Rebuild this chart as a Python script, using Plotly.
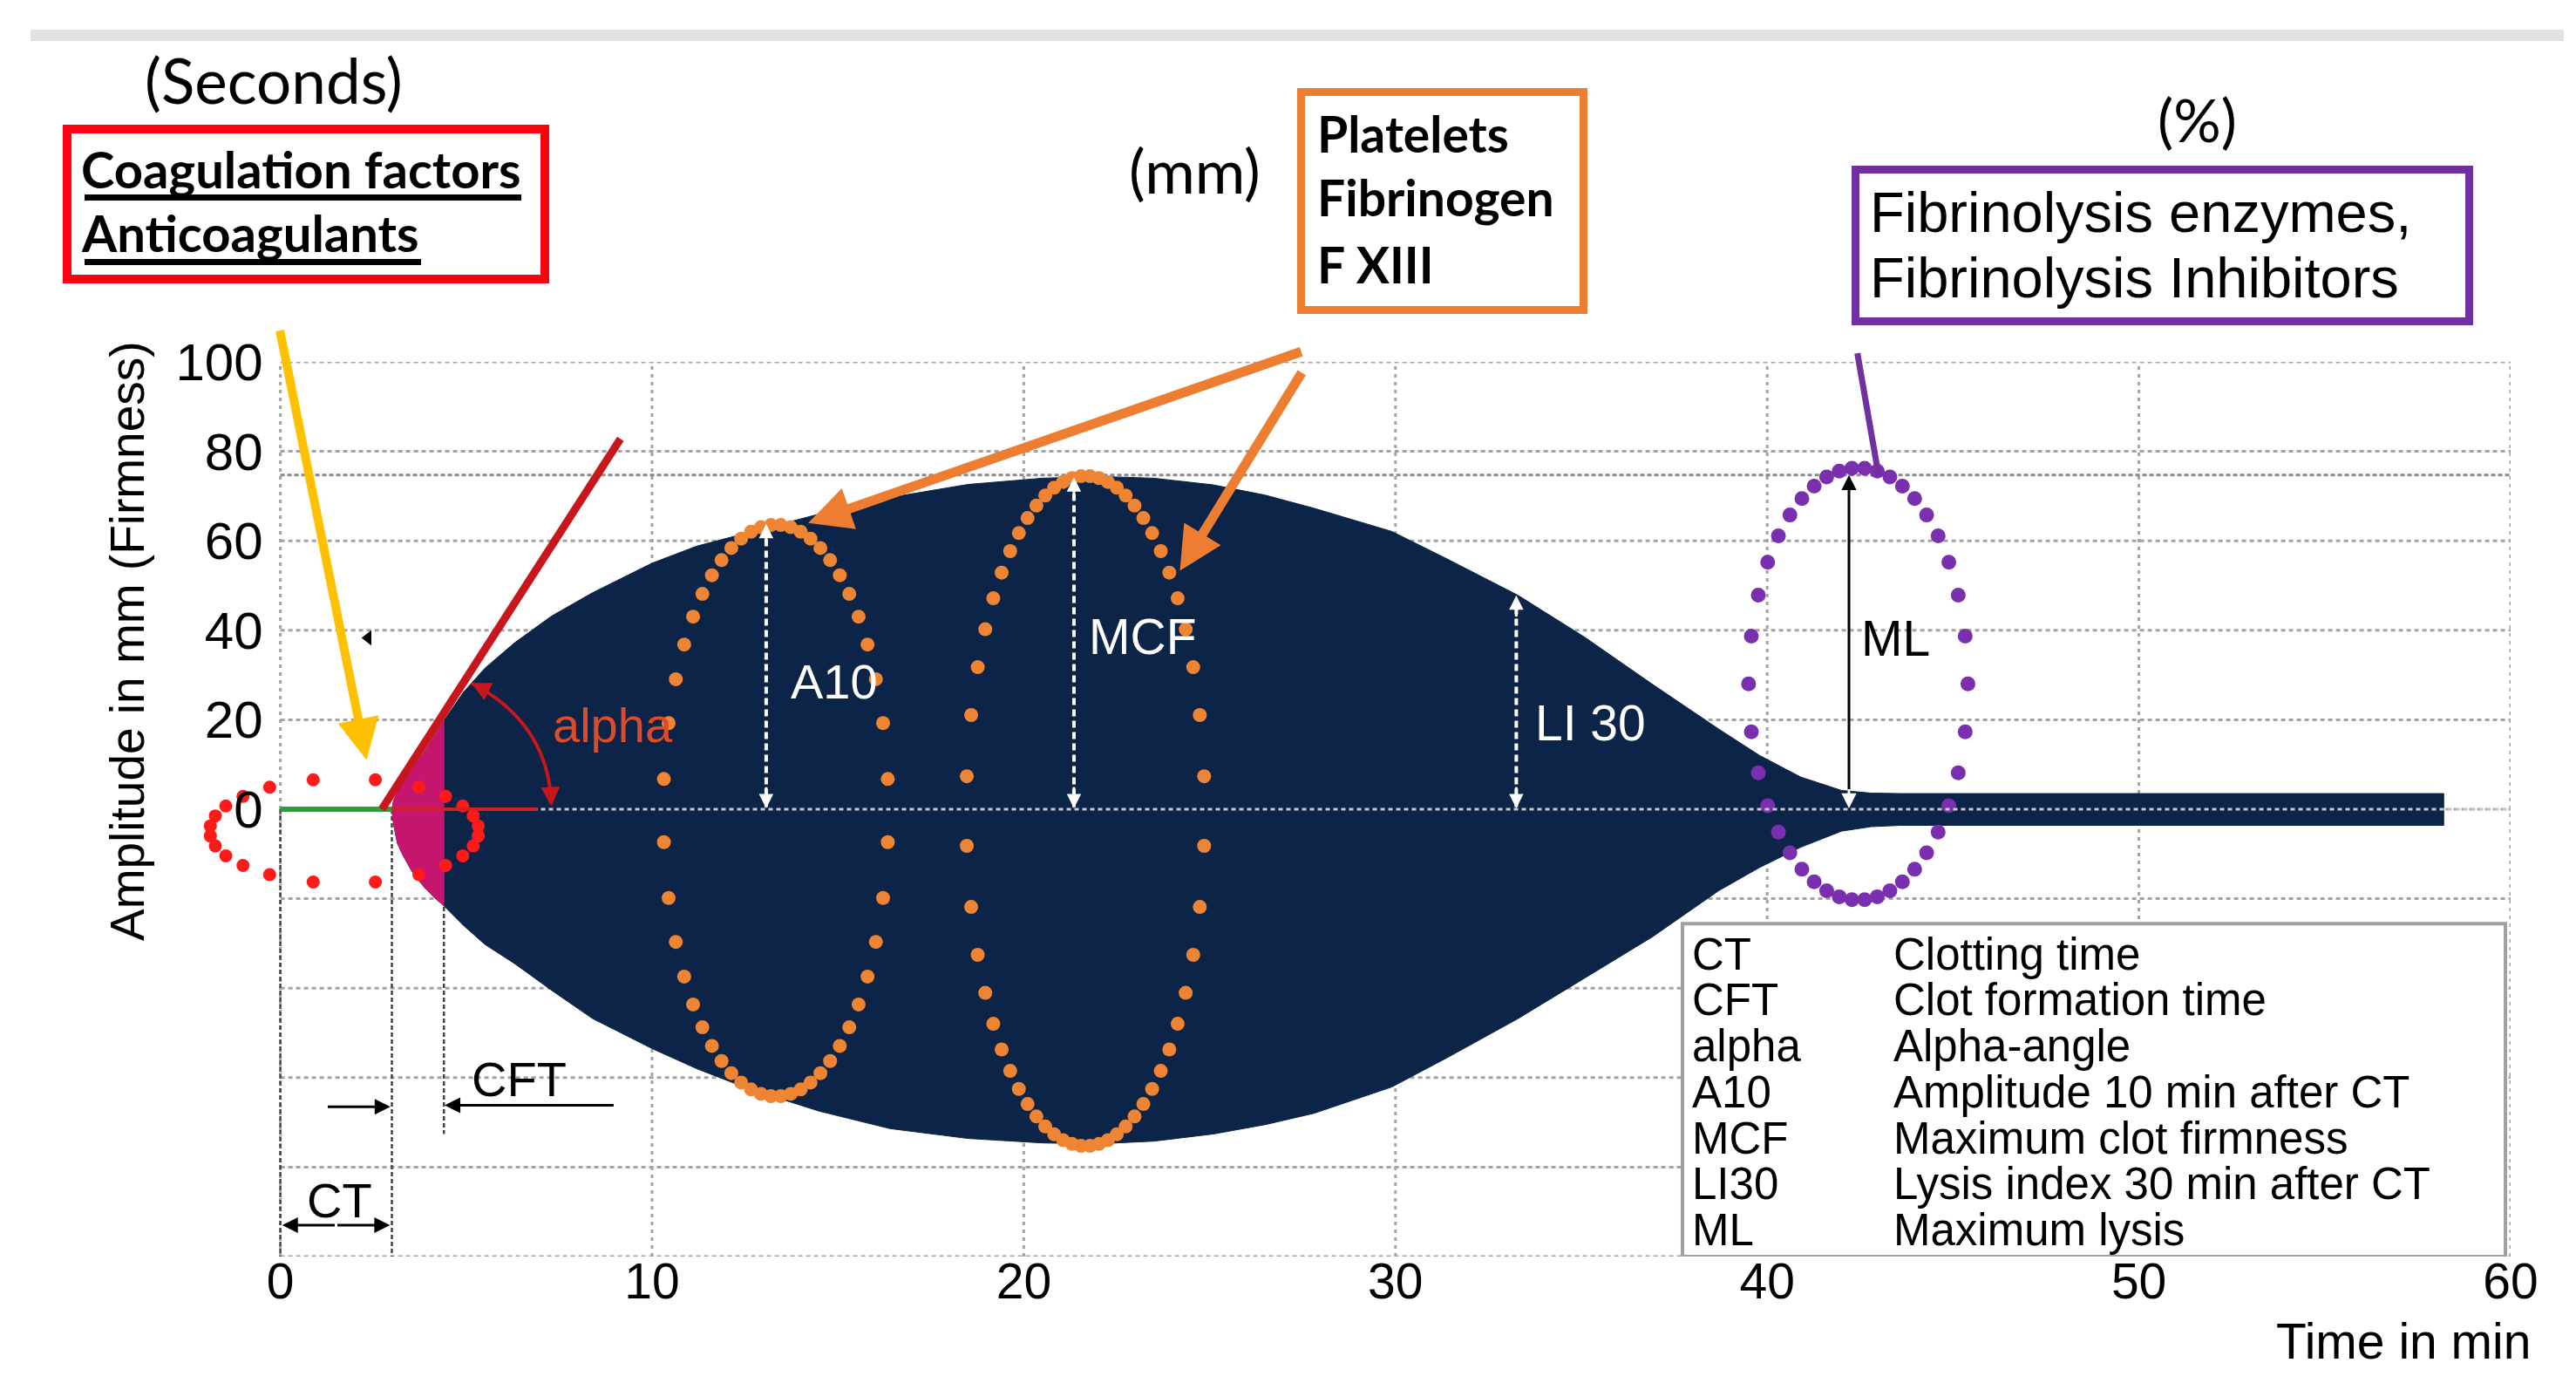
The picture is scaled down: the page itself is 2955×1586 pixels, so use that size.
import numpy as np
import plotly.graph_objects as go

# ---------------- figure geometry ----------------
FIG_W, FIG_H = 2955, 1586
M_L, M_R, M_T, M_B = 207, 83, 407, 153
PLOT_W = FIG_W - M_L - M_R
PLOT_H = FIG_H - M_T - M_B

# ---------------- axes / ticks ----------------
X_RANGE = [-2.5, 60]
Y_RANGE = [-100, 100]
x_tick_vals = [0, 10, 20, 30, 40, 50, 60]
y_tick_vals = [-100, -80, -60, -40, -20, 0, 20, 40, 60, 80, 100]
y_tick_text = ["", "", "", "", "", "0", "20", "40", "60", "80", "100"]

# ---------------- clot curve (amplitude in mm vs time in min) ----------------
blob_time = [3.0, 3.05, 3.15, 3.3, 3.55, 3.85, 4.1, 4.4, 4.93, 5.5, 6.3, 7.3, 8.4,
             10.0, 11.2, 12.6, 14.5, 16.4, 18.5, 20.5, 22.0, 23.5, 25.1, 26.5, 27.8,
             29.9, 31.4, 33.3, 35.1, 36.9, 38.7, 39.8, 40.9, 42.0, 42.8, 43.6, 58.2]
blob_upper = [0, 2.0, 3.8, 5.8, 8.9, 12.6, 15.9, 19.8, 26.2, 31.5, 37.2, 43.2, 48.4,
              55.0, 58.8, 61.8, 66.0, 69.7, 72.6, 74.0, 74.4, 74.0, 72.5, 70.2, 67.3,
              62.1, 55.9, 47.8, 38.4, 28.0, 17.9, 12.0, 7.2, 4.2, 3.6, 3.5, 3.5]
blob_lower = [0, 3.5, 7.6, 10.3, 14.0, 17.2, 19.4, 21.6, 26.0, 30.2, 34.5, 40.5, 46.8,
              53.5, 58.0, 62.5, 67.5, 71.4, 73.6, 74.6, 74.8, 74.2, 72.6, 70.5, 68.0,
              62.1, 55.5, 46.8, 37.7, 28.6, 18.2, 13.0, 8.5, 4.9, 3.9, 3.6, 3.6]

# ---------------- parameters ----------------
CT = 3.0
CFT_END = 4.4
CFT_LINE_BOTTOM = -72.6
A10_T, A10_V = 13.07, 63.8
MCF_T, MCF_V = 21.35, 74.2
LI30_T, LI30_V = 33.25, 47.8
ML_T, MCF_LEVEL = 42.2, 74.7
ALPHA_LINE = [(2.73, 0.0), (9.15, 82.8)]
ALPHA_BASE = [(2.99, 6.9)]
ALPHA_ARC = [(5.14, 28.2), (7.2, 19.25), (7.29, 1.3)]

# dotted ellipses: centre t, centre amp, half-width (min), half-height (mm)
ell_red = [1.72, -4.85, 3.62, 11.75]
ell_a10 = [13.33, -0.3, 3.03, 63.9]
ell_mcf = [21.66, -0.4, 3.21, 74.9]
ell_ml = [42.45, 28.0, 2.95, 48.3]

legend_abbr = ["CT", "CFT", "alpha", "A10", "MCF", "LI30", "ML"]
legend_desc = ["Clotting time", "Clot formation time", "Alpha-angle",
               "Amplitude 10 min after CT", "Maximum clot firmness",
               "Lysis index 30 min after CT", "Maximum lysis"]

NAVY = "#0B2447"
MAGENTA = "#C4156F"
ORANGE = "#ED7D31"
ORANGE_DOT = "#EF8433"
PURPLE = "#7030A0"
PURPLE_DOT = "#7A2FAE"
RED_BOX = "#FF0010"
DARK_RED = "#C8161D"
YELLOW = "#FFC000"
GRID = "#a3a3a3"
SANS = "Liberation Sans, Arial, sans-serif"
CAL = "Lato, Carlito, Calibri, sans-serif"

SX = PLOT_W / (X_RANGE[1] - X_RANGE[0])
SY = PLOT_H / (Y_RANGE[1] - Y_RANGE[0])
Y_AXIS_POS = (0 - X_RANGE[0]) / (X_RANGE[1] - X_RANGE[0])


def pxp(xo):
    return (xo - M_L) / PLOT_W


def pyp(yo):
    return 1 - (yo - M_T) / PLOT_H


def ellipse_dots(e, spacing=29.0, phase=0.5):
    tc, ac, ta, ab = e
    th = np.linspace(0, 2 * np.pi, 4000)
    X = ta * SX * np.cos(th)
    Y = ab * SY * np.sin(th)
    L = np.concatenate([[0], np.cumsum(np.hypot(np.diff(X), np.diff(Y)))])
    n = int(round(L[-1] / spacing))
    step = L[-1] / n
    targets = (np.arange(n) + phase) * step
    thi = np.interp(targets, L, th) + np.pi / 2
    return tc + ta * np.cos(thi), ac + ab * np.sin(thi)


fig = go.Figure()

# main clot curve
poly_x = blob_time + blob_time[::-1]
poly_y = blob_upper + [-v for v in blob_lower][::-1]
fig.add_trace(go.Scatter(x=poly_x, y=poly_y, mode="lines", fill="toself",
                         fillcolor=NAVY, line=dict(color=NAVY, width=1),
                         hoverinfo="skip", showlegend=False))

# CFT section (magenta)
sel = [i for i, t in enumerate(blob_time) if t <= CFT_END]
mt = [blob_time[i] for i in sel]
fig.add_trace(go.Scatter(x=mt + mt[::-1],
                         y=[blob_upper[i] for i in sel] + [-blob_lower[i] for i in sel][::-1],
                         mode="lines", fill="toself", fillcolor=MAGENTA,
                         line=dict(color=MAGENTA, width=1), hoverinfo="skip",
                         showlegend=False))

# green CT baseline
fig.add_trace(go.Scatter(x=[0, CT], y=[0, 0], mode="lines",
                         line=dict(color="#2F9E3A", width=6), hoverinfo="skip",
                         showlegend=False))

# dotted ellipses
for e, col, sz in [(ell_red, "#FF1A1A", 15), (ell_a10, ORANGE_DOT, 16),
                   (ell_mcf, ORANGE_DOT, 16), (ell_ml, PURPLE_DOT, 17)]:
    ex, ey = ellipse_dots(e)
    fig.add_trace(go.Scatter(x=ex, y=ey, mode="markers",
                             marker=dict(color=col, size=sz, line=dict(width=0)),
                             cliponaxis=False, hoverinfo="skip", showlegend=False))

# small black arrow-head artefact
fig.add_trace(go.Scatter(x=[2.36], y=[38.3], mode="markers",
                         marker=dict(symbol="triangle-left", color="black", size=15),
                         hoverinfo="skip", showlegend=False))

shapes = []
# grid (drawn from the tick values, only over 0..60 min)
for yv in y_tick_vals:
    shapes.append(dict(type="line", xref="x", yref="y", x0=x_tick_vals[0], x1=x_tick_vals[-1],
                       y0=yv, y1=yv, line=dict(color=GRID, width=3, dash="5px,4px"),
                       layer="below"))
for xv in x_tick_vals:
    shapes.append(dict(type="line", xref="x", yref="y", x0=xv, x1=xv,
                       y0=Y_RANGE[0], y1=Y_RANGE[1],
                       line=dict(color=GRID, width=3, dash="4px,5px"), layer="below"))
# grey band at top
shapes.append(dict(type="rect", xref="paper", yref="paper",
                   x0=pxp(27), x1=pxp(2933), y0=pyp(39), y1=pyp(26),
                   fillcolor="#E2E2E2", line=dict(width=0), layer="above"))
# MCF level line
shapes.append(dict(type="line", xref="x", yref="y", x0=0, x1=60, y0=MCF_LEVEL, y1=MCF_LEVEL,
                   line=dict(color="#8a8a8a", width=3, dash="5px,3px"), layer="below"))
# black dotted verticals below zero
for xv, yb in [(0, -100), (CT, -100), (CFT_END, CFT_LINE_BOTTOM)]:
    shapes.append(dict(type="line", xref="x", yref="y", x0=xv, x1=xv, y0=0, y1=yb,
                       line=dict(color="#444444", width=2.5, dash="5px,3px"), layer="below"))
# zero line over the clot
shapes.append(dict(type="line", xref="x", yref="y", x0=CT, x1=60, y0=0, y1=0,
                   line=dict(color="#c9c9c9", width=3, dash="5px,4px"), layer="above"))
# red horizontal baseline of alpha
shapes.append(dict(type="line", xref="x", yref="y", x0=ALPHA_BASE[0][0], x1=ALPHA_BASE[0][1],
                   y0=0, y1=0, line=dict(color="#D42020", width=4), layer="above"))
# white dashed measure lines
for tv, vv in [(A10_T, A10_V), (MCF_T, MCF_V), (LI30_T, LI30_V)]:
    shapes.append(dict(type="line", xref="x", yref="y", x0=tv, x1=tv, y0=0.5, y1=vv - 1,
                       line=dict(color="white", width=4, dash="8px,5px"), layer="above"))
# alpha tangent line
shapes.append(dict(type="line", xref="x", yref="y",
                   x0=ALPHA_LINE[0][0], y0=ALPHA_LINE[0][1],
                   x1=ALPHA_LINE[1][0], y1=ALPHA_LINE[1][1],
                   line=dict(color=DARK_RED, width=9), layer="above"))
# alpha arc
p0, p1, p2 = ALPHA_ARC
shapes.append(dict(type="path", xref="x", yref="y",
                   path=f"M {p0[0]},{p0[1]} Q {p1[0]},{p1[1]} {p2[0]},{p2[1]}",
                   line=dict(color=DARK_RED, width=4), layer="above"))
# legend box
shapes.append(dict(type="rect", xref="x", yref="y", x0=37.72, x1=59.86, y0=-100, y1=-25.6,
                   fillcolor="white", line=dict(color="#A0A0A0", width=4), layer="above"))
# boxes above the chart
shapes.append(dict(type="rect", xref="paper", yref="paper", x0=pxp(69), x1=pxp(617),
                   y0=pyp(312), y1=pyp(140), line=dict(color=RED_BOX, width=10),
                   fillcolor="rgba(0,0,0,0)"))
shapes.append(dict(type="rect", xref="paper", yref="paper", x0=pxp(1484.5), x1=pxp(1808.5),
                   y0=pyp(347.5), y1=pyp(97.5), line=dict(color=ORANGE, width=9),
                   fillcolor="rgba(0,0,0,0)"))
shapes.append(dict(type="rect", xref="paper", yref="paper", x0=pxp(2120.5), x1=pxp(2824.5),
                   y0=pyp(360.5), y1=pyp(186.5), line=dict(color=PURPLE, width=9),
                   fillcolor="rgba(0,0,0,0)"))
# underlines
for x0, x1, yy in [(89, 590, 218.5), (89, 475, 292.5)]:
    shapes.append(dict(type="line", xref="paper", yref="paper", x0=pxp(x0), x1=pxp(x1),
                       y0=pyp(yy), y1=pyp(yy), line=dict(color="black", width=7)))

ann = []


def ptext(xo, yo, s, size, family=SANS, color="black", xanchor="center", angle=0):
    ann.append(dict(x=pxp(xo), y=pyp(yo), xref="paper", yref="paper", text=s,
                    showarrow=False, xanchor=xanchor, yanchor="middle", textangle=angle,
                    font=dict(size=size, family=family, color=color)))


def dtext(x, y, s, size, color="black", xanchor="center", family=SANS):
    ann.append(dict(x=x, y=y, xref="x", yref="y", text=s, showarrow=False,
                    xanchor=xanchor, yanchor="middle",
                    font=dict(size=size, family=family, color=color)))


def arrow(x, y, ax, ay, color, width, head=2, size=1.0, pixel=False):
    ann.append(dict(x=x, y=y, xref="x", yref="y", ax=ax, ay=ay,
                    axref="pixel" if pixel else "x", ayref="pixel" if pixel else "y",
                    text="", showarrow=True, arrowhead=head, arrowsize=size,
                    arrowwidth=width, arrowcolor=color, standoff=0, startstandoff=0))


# top texts
ptext(306, 84, "(Seconds)", 71, CAL)
ptext(83, 185, "<b>Coagulation factors</b>", 58, CAL, xanchor="left")
ptext(83, 259, "<b>Anticoagulants</b>", 58, CAL, xanchor="left")
ptext(1362, 187, "(mm)", 70, CAL)
ptext(1501, 145, "<b>Platelets</b>", 57, CAL, xanchor="left")
ptext(1501, 218, "<b>Fibrinogen</b>", 57, CAL, xanchor="left")
ptext(1501, 295, "<b>F XIII</b>", 57, CAL, xanchor="left")
ptext(2512, 128, "(%)", 68, CAL)
ptext(2135, 236, "Fibrinolysis enzymes,", 65, SANS, xanchor="left")
ptext(2135, 310, "Fibrinolysis Inhibitors", 65, SANS, xanchor="left")

# axis titles
ptext(138, 727, "Amplitude in mm (Firmness)", 55, SANS, angle=-90)
ptext(2897, 1530, "Time in min", 57, SANS, xanchor="right")

# labels inside the chart
dtext(14.9, 28.6, "A10", 56, "white")
dtext(23.2, 38.6, "MCF", 57, "white")
dtext(35.25, 19.3, "LI 30", 57, "white")
dtext(43.45, 38.2, "ML", 57, "black")
dtext(8.95, 18.8, "alpha", 56, "#DD4B2A")
dtext(1.6, -87.4, "CT", 56)
dtext(6.42, -60.4, "CFT", 56)

# legend table
for i, (ab, de) in enumerate(zip(legend_abbr, legend_desc)):
    yy = -32.4 - 10.28 * i
    dtext(37.92, yy, ab, 51, xanchor="left")
    dtext(43.35, yy, de, 51, xanchor="left")

# arrows
arrow(2.32, 11.0, -0.02, 107.3, YELLOW, 10, 2, 0.95)
arrow(14.2, 64.0, 27.5, 102.4, ORANGE, 11, 2, 0.9)
arrow(24.2, 53.3, 27.5, 97.9, ORANGE, 11, 2, 0.9)
arrow(43.0, 74.5, 42.42, 102.2, PURPLE, 7, 0, 1)
# ML arrow
arrow(ML_T, MCF_LEVEL, ML_T, 0.5, "black", 3, 2, 1.15)
arrow(ML_T, 0.2, ML_T, 4.8, "white", 3, 2, 1.15)
# white measure arrow heads
for tv, vv in [(A10_T, A10_V), (MCF_T, MCF_V), (LI30_T, LI30_V)]:
    arrow(tv, vv, tv, vv - 5, "white", 3, 2, 1.1)
    arrow(tv, 0.2, tv, 5.2, "white", 3, 2, 1.1)
# alpha arc heads
arrow(p0[0], p0[1], 18, 9, DARK_RED, 4, 2, 1.1, pixel=True)
arrow(p2[0], p2[1] - 0.6, -1, -20, DARK_RED, 4, 2, 1.1, pixel=True)
# CT double arrow
arrow(0.05, -93, 1.5, -93, "black", 3, 2, 1.2)
arrow(CT - 0.05, -93, 1.5, -93, "black", 3, 2, 1.2)
# CFT arrows
arrow(CT - 0.04, -66.5, 1.24, -66.5, "black", 3, 2, 1.2)
arrow(CFT_END + 0.02, -66.2, 9.0, -66.2, "black", 3, 2, 1.2)

fig.update_layout(
    width=FIG_W, height=FIG_H,
    margin=dict(l=M_L, r=M_R, t=M_T, b=M_B, pad=0),
    paper_bgcolor="white", plot_bgcolor="white",
    showlegend=False, shapes=shapes, annotations=ann,
    xaxis=dict(range=X_RANGE, tickvals=x_tick_vals, showgrid=False, zeroline=False,
               showline=False, ticks="", ticklabelstandoff=-10,
               tickfont=dict(size=57, family=SANS, color="black"), fixedrange=True),
    yaxis=dict(range=Y_RANGE, tickvals=y_tick_vals, ticktext=y_tick_text, showgrid=False,
               zeroline=False, showline=False, ticks="", ticklabelstandoff=20,
               anchor="free", position=Y_AXIS_POS,
               tickfont=dict(size=60, family=SANS, color="black"), fixedrange=True),
)

fig.write_html("out.html")
